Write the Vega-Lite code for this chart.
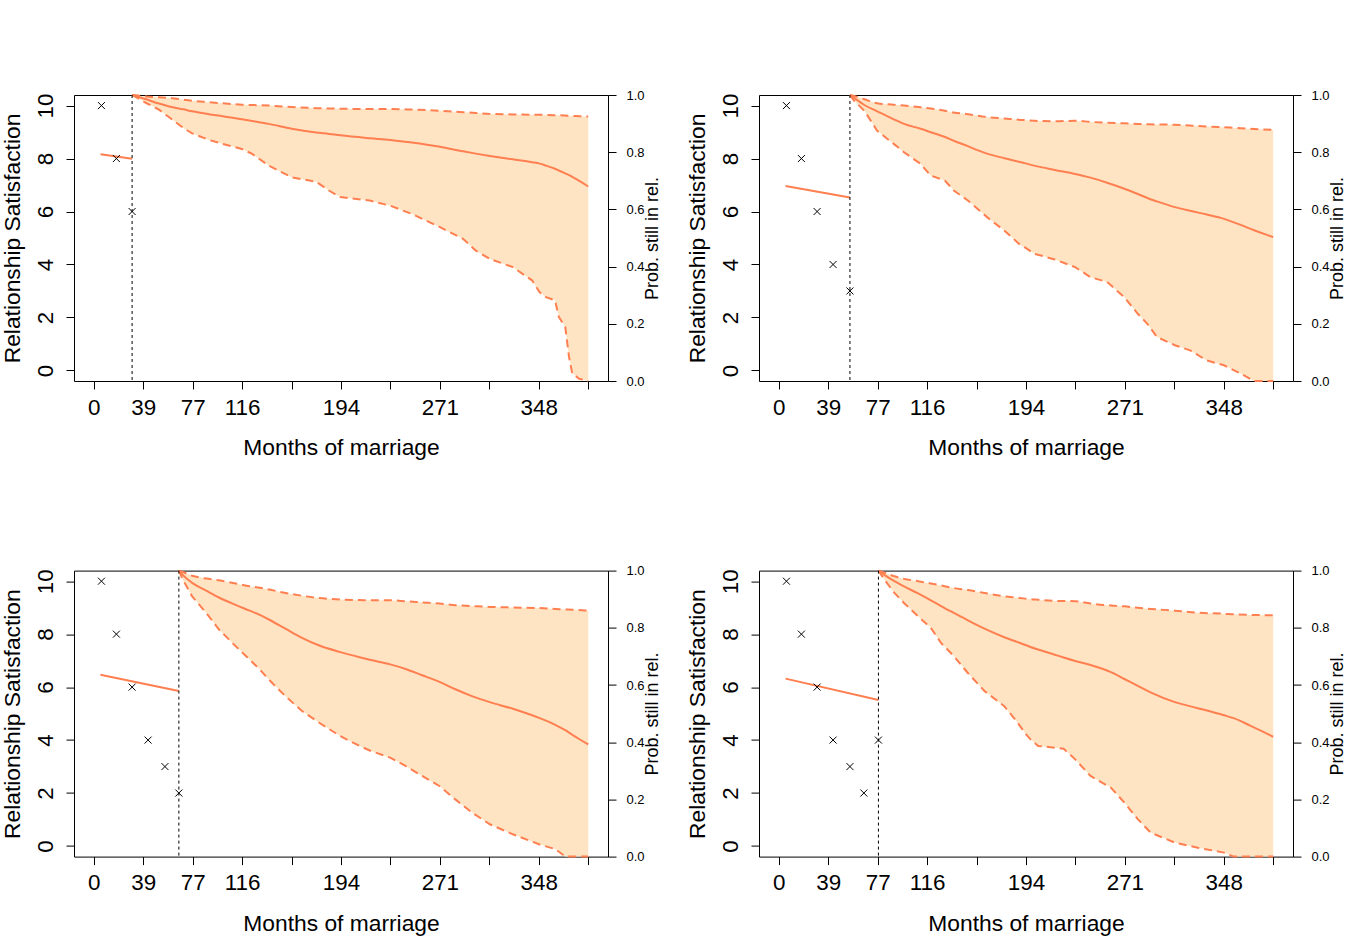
{
  "$schema": "https://vega.github.io/schema/vega-lite/v6.json",
  "padding": {"left": 0, "top": 88, "right": 0, "bottom": 0},
  "background": "white",
  "config": {
    "font": "Liberation Sans",
    "view": {"stroke": "black", "strokeWidth": 1},
    "axis": {"labelFont": "Liberation Sans", "titleFont": "Liberation Sans", "labelColor": "black", "titleColor": "black", "tickColor": "black", "tickWidth": 1, "domain": false, "grid": false, "titleFontWeight": "normal"}
  },
  "datasets": {
    "obs": [
      {"panel": 1, "t": 6, "y": 10}, {"panel": 1, "t": 17.7, "y": 8}, {"panel": 1, "t": 30, "y": 6},
      {"panel": 2, "t": 6, "y": 10}, {"panel": 2, "t": 17.7, "y": 8}, {"panel": 2, "t": 30, "y": 6}, {"panel": 2, "t": 42.5, "y": 4}, {"panel": 2, "t": 55.7, "y": 3},
      {"panel": 3, "t": 6, "y": 10}, {"panel": 3, "t": 17.7, "y": 8}, {"panel": 3, "t": 30, "y": 6}, {"panel": 3, "t": 42.5, "y": 4}, {"panel": 3, "t": 55.7, "y": 3}, {"panel": 3, "t": 66.6, "y": 2},
      {"panel": 4, "t": 6, "y": 10}, {"panel": 4, "t": 17.7, "y": 8}, {"panel": 4, "t": 30, "y": 6}, {"panel": 4, "t": 42.5, "y": 4}, {"panel": 4, "t": 55.7, "y": 3}, {"panel": 4, "t": 66.6, "y": 2}, {"panel": 4, "t": 78, "y": 4}
    ],
    "fit": [
      {"panel": 1, "t": 5.3, "y": 8.16}, {"panel": 1, "t": 30, "y": 7.99},
      {"panel": 2, "t": 5.3, "y": 6.96}, {"panel": 2, "t": 55.7, "y": 6.53},
      {"panel": 3, "t": 5.2, "y": 6.47}, {"panel": 3, "t": 66.6, "y": 5.85},
      {"panel": 4, "t": 5.3, "y": 6.32}, {"panel": 4, "t": 78, "y": 5.51}
    ],
    "last": [
      {"panel": 1, "t": 30}, {"panel": 2, "t": 55.7}, {"panel": 3, "t": 66.6}, {"panel": 4, "t": 78}
    ],
    "surv": [
      {"panel": 1, "t": 30, "m": 1, "lo": 1, "up": 1},
      {"panel": 1, "t": 41, "m": 0.985, "lo": 0.972, "up": 0.995},
      {"panel": 1, "t": 51, "m": 0.970, "lo": 0.949, "up": 0.992},
      {"panel": 1, "t": 59, "m": 0.960, "lo": 0.922, "up": 0.990},
      {"panel": 1, "t": 70, "m": 0.950, "lo": 0.885, "up": 0.984},
      {"panel": 1, "t": 77, "m": 0.943, "lo": 0.866, "up": 0.980},
      {"panel": 1, "t": 90, "m": 0.933, "lo": 0.843, "up": 0.975},
      {"panel": 1, "t": 101, "m": 0.926, "lo": 0.829, "up": 0.971},
      {"panel": 1, "t": 116, "m": 0.915, "lo": 0.811, "up": 0.966},
      {"panel": 1, "t": 124, "m": 0.909, "lo": 0.794, "up": 0.965},
      {"panel": 1, "t": 137, "m": 0.899, "lo": 0.753, "up": 0.963},
      {"panel": 1, "t": 155, "m": 0.882, "lo": 0.712, "up": 0.958},
      {"panel": 1, "t": 174, "m": 0.869, "lo": 0.697, "up": 0.954},
      {"panel": 1, "t": 184, "m": 0.864, "lo": 0.666, "up": 0.953},
      {"panel": 1, "t": 193, "m": 0.859, "lo": 0.643, "up": 0.952},
      {"panel": 1, "t": 216, "m": 0.849, "lo": 0.631, "up": 0.951},
      {"panel": 1, "t": 232, "m": 0.843, "lo": 0.613, "up": 0.951},
      {"panel": 1, "t": 249, "m": 0.834, "lo": 0.584, "up": 0.949},
      {"panel": 1, "t": 271, "m": 0.819, "lo": 0.538, "up": 0.945},
      {"panel": 1, "t": 289, "m": 0.803, "lo": 0.497, "up": 0.940},
      {"panel": 1, "t": 299, "m": 0.795, "lo": 0.456, "up": 0.937},
      {"panel": 1, "t": 310, "m": 0.787, "lo": 0.427, "up": 0.934},
      {"panel": 1, "t": 328, "m": 0.775, "lo": 0.398, "up": 0.932},
      {"panel": 1, "t": 343, "m": 0.765, "lo": 0.352, "up": 0.931},
      {"panel": 1, "t": 349, "m": 0.760, "lo": 0.310, "up": 0.931},
      {"panel": 1, "t": 354, "m": 0.753, "lo": 0.293, "up": 0.930},
      {"panel": 1, "t": 361, "m": 0.742, "lo": 0.282, "up": 0.929},
      {"panel": 1, "t": 364, "m": 0.736, "lo": 0.224, "up": 0.929},
      {"panel": 1, "t": 369, "m": 0.726, "lo": 0.189, "up": 0.928},
      {"panel": 1, "t": 372, "m": 0.720, "lo": 0.084, "up": 0.927},
      {"panel": 1, "t": 374.5, "m": 0.714, "lo": 0.026, "up": 0.927},
      {"panel": 1, "t": 380, "m": 0.700, "lo": 0.008, "up": 0.926},
      {"panel": 1, "t": 387, "m": 0.680, "lo": 0.0, "up": 0.925},
      {"panel": 2, "t": 55.7, "m": 1, "lo": 1, "up": 1},
      {"panel": 2, "t": 59, "m": 0.990, "lo": 0.980, "up": 0.997},
      {"panel": 2, "t": 67, "m": 0.965, "lo": 0.945, "up": 0.985},
      {"panel": 2, "t": 77, "m": 0.943, "lo": 0.875, "up": 0.971},
      {"panel": 2, "t": 90, "m": 0.915, "lo": 0.829, "up": 0.966},
      {"panel": 2, "t": 98, "m": 0.899, "lo": 0.800, "up": 0.963},
      {"panel": 2, "t": 111, "m": 0.882, "lo": 0.759, "up": 0.957},
      {"panel": 2, "t": 119, "m": 0.870, "lo": 0.718, "up": 0.953},
      {"panel": 2, "t": 130, "m": 0.853, "lo": 0.701, "up": 0.945},
      {"panel": 2, "t": 137, "m": 0.840, "lo": 0.666, "up": 0.939},
      {"panel": 2, "t": 148, "m": 0.821, "lo": 0.631, "up": 0.933},
      {"panel": 2, "t": 155, "m": 0.808, "lo": 0.604, "up": 0.928},
      {"panel": 2, "t": 163, "m": 0.795, "lo": 0.573, "up": 0.923},
      {"panel": 2, "t": 176.5, "m": 0.779, "lo": 0.526, "up": 0.918},
      {"panel": 2, "t": 189.5, "m": 0.765, "lo": 0.474, "up": 0.913},
      {"panel": 2, "t": 193, "m": 0.761, "lo": 0.466, "up": 0.912},
      {"panel": 2, "t": 200, "m": 0.753, "lo": 0.445, "up": 0.910},
      {"panel": 2, "t": 216, "m": 0.738, "lo": 0.425, "up": 0.908},
      {"panel": 2, "t": 232, "m": 0.724, "lo": 0.398, "up": 0.910},
      {"panel": 2, "t": 244, "m": 0.711, "lo": 0.363, "up": 0.906},
      {"panel": 2, "t": 257, "m": 0.693, "lo": 0.346, "up": 0.903},
      {"panel": 2, "t": 270.5, "m": 0.672, "lo": 0.293, "up": 0.901},
      {"panel": 2, "t": 281, "m": 0.654, "lo": 0.235, "up": 0.899},
      {"panel": 2, "t": 288.5, "m": 0.640, "lo": 0.200, "up": 0.898},
      {"panel": 2, "t": 296, "m": 0.628, "lo": 0.154, "up": 0.897},
      {"panel": 2, "t": 310, "m": 0.608, "lo": 0.125, "up": 0.896},
      {"panel": 2, "t": 322, "m": 0.595, "lo": 0.107, "up": 0.893},
      {"panel": 2, "t": 335, "m": 0.582, "lo": 0.072, "up": 0.890},
      {"panel": 2, "t": 348.5, "m": 0.567, "lo": 0.055, "up": 0.887},
      {"panel": 2, "t": 361.5, "m": 0.546, "lo": 0.026, "up": 0.884},
      {"panel": 2, "t": 372, "m": 0.527, "lo": 0.0, "up": 0.881},
      {"panel": 2, "t": 387, "m": 0.503, "lo": 0.0, "up": 0.878},
      {"panel": 3, "t": 66.6, "m": 1, "lo": 1, "up": 1},
      {"panel": 3, "t": 69.6, "m": 0.985, "lo": 0.969, "up": 0.995},
      {"panel": 3, "t": 77, "m": 0.957, "lo": 0.910, "up": 0.982},
      {"panel": 3, "t": 88, "m": 0.930, "lo": 0.852, "up": 0.972},
      {"panel": 3, "t": 98, "m": 0.906, "lo": 0.794, "up": 0.966},
      {"panel": 3, "t": 111, "m": 0.880, "lo": 0.736, "up": 0.955},
      {"panel": 3, "t": 122, "m": 0.860, "lo": 0.689, "up": 0.945},
      {"panel": 3, "t": 130, "m": 0.845, "lo": 0.654, "up": 0.940},
      {"panel": 3, "t": 137, "m": 0.829, "lo": 0.619, "up": 0.934},
      {"panel": 3, "t": 150, "m": 0.797, "lo": 0.561, "up": 0.922},
      {"panel": 3, "t": 163, "m": 0.765, "lo": 0.509, "up": 0.912},
      {"panel": 3, "t": 176.5, "m": 0.738, "lo": 0.468, "up": 0.904},
      {"panel": 3, "t": 193, "m": 0.715, "lo": 0.421, "up": 0.899},
      {"panel": 3, "t": 208, "m": 0.697, "lo": 0.387, "up": 0.897},
      {"panel": 3, "t": 216, "m": 0.688, "lo": 0.371, "up": 0.896},
      {"panel": 3, "t": 232, "m": 0.672, "lo": 0.346, "up": 0.896},
      {"panel": 3, "t": 244, "m": 0.656, "lo": 0.317, "up": 0.893},
      {"panel": 3, "t": 257, "m": 0.634, "lo": 0.282, "up": 0.889},
      {"panel": 3, "t": 270.5, "m": 0.611, "lo": 0.247, "up": 0.885},
      {"panel": 3, "t": 283, "m": 0.585, "lo": 0.200, "up": 0.879},
      {"panel": 3, "t": 296, "m": 0.561, "lo": 0.154, "up": 0.876},
      {"panel": 3, "t": 310, "m": 0.540, "lo": 0.113, "up": 0.873},
      {"panel": 3, "t": 328, "m": 0.517, "lo": 0.078, "up": 0.871},
      {"panel": 3, "t": 348.5, "m": 0.485, "lo": 0.043, "up": 0.869},
      {"panel": 3, "t": 361.5, "m": 0.460, "lo": 0.026, "up": 0.866},
      {"panel": 3, "t": 369, "m": 0.442, "lo": 0.0, "up": 0.864},
      {"panel": 3, "t": 374.5, "m": 0.426, "lo": 0.0, "up": 0.863},
      {"panel": 3, "t": 387, "m": 0.392, "lo": 0.0, "up": 0.860},
      {"panel": 4, "t": 78, "m": 1, "lo": 1, "up": 1},
      {"panel": 4, "t": 82.6, "m": 0.985, "lo": 0.969, "up": 0.993},
      {"panel": 4, "t": 90.5, "m": 0.963, "lo": 0.922, "up": 0.980},
      {"panel": 4, "t": 98, "m": 0.945, "lo": 0.887, "up": 0.971},
      {"panel": 4, "t": 109, "m": 0.920, "lo": 0.840, "up": 0.963},
      {"panel": 4, "t": 119, "m": 0.896, "lo": 0.800, "up": 0.955},
      {"panel": 4, "t": 127, "m": 0.876, "lo": 0.747, "up": 0.948},
      {"panel": 4, "t": 137, "m": 0.852, "lo": 0.701, "up": 0.939},
      {"panel": 4, "t": 148, "m": 0.826, "lo": 0.642, "up": 0.932},
      {"panel": 4, "t": 161, "m": 0.797, "lo": 0.579, "up": 0.922},
      {"panel": 4, "t": 176.5, "m": 0.767, "lo": 0.526, "up": 0.910},
      {"panel": 4, "t": 187, "m": 0.750, "lo": 0.468, "up": 0.905},
      {"panel": 4, "t": 193, "m": 0.740, "lo": 0.430, "up": 0.902},
      {"panel": 4, "t": 197, "m": 0.733, "lo": 0.410, "up": 0.900},
      {"panel": 4, "t": 203, "m": 0.724, "lo": 0.387, "up": 0.898},
      {"panel": 4, "t": 216, "m": 0.706, "lo": 0.381, "up": 0.894},
      {"panel": 4, "t": 223, "m": 0.696, "lo": 0.377, "up": 0.894},
      {"panel": 4, "t": 232, "m": 0.684, "lo": 0.340, "up": 0.893},
      {"panel": 4, "t": 244, "m": 0.670, "lo": 0.282, "up": 0.885},
      {"panel": 4, "t": 260, "m": 0.645, "lo": 0.241, "up": 0.878},
      {"panel": 4, "t": 270.5, "m": 0.621, "lo": 0.189, "up": 0.875},
      {"panel": 4, "t": 281, "m": 0.597, "lo": 0.131, "up": 0.870},
      {"panel": 4, "t": 291, "m": 0.574, "lo": 0.084, "up": 0.866},
      {"panel": 4, "t": 310, "m": 0.540, "lo": 0.049, "up": 0.860},
      {"panel": 4, "t": 328, "m": 0.519, "lo": 0.031, "up": 0.853},
      {"panel": 4, "t": 348.5, "m": 0.494, "lo": 0.014, "up": 0.849},
      {"panel": 4, "t": 356, "m": 0.484, "lo": 0.0, "up": 0.847},
      {"panel": 4, "t": 369, "m": 0.458, "lo": 0.0, "up": 0.845},
      {"panel": 4, "t": 387, "m": 0.419, "lo": 0.0, "up": 0.844}
    ]
  },
  "columns": 2,
  "bounds": "flush",
  "spacing": {"row": 189.6, "column": 151},
  "concat": [
    {
      "width": 534, "height": 286,
      "resolve": {"scale": {"y": "independent"}},
      "layer": [
        {
          "data": {"name": "surv"},
          "transform": [{"filter": "datum.panel == 1"}],
          "encoding": {
            "x": {"field": "t", "type": "quantitative", "title": "Months of marriage",
              "scale": {"domain": [-15.48, 402.48], "nice": false, "zero": false},
              "axis": {"values": [0, 38.7, 77.4, 116.1, 154.8, 193.5, 232.2, 270.9, 309.6, 348.3, 387], "labelExpr": "(datum.value > 150 && datum.value < 160) || (datum.value > 230 && datum.value < 240) || (datum.value > 305 && datum.value < 315) || datum.value > 380 ? '' : format(datum.value, '.0f')", "labelOverlap": false, "labelFlush": false, "tickSize": 8, "labelFontSize": 22.4, "labelPadding": 7, "titleFontSize": 22.8, "titlePadding": 18}}
          },
          "layer": [
            {"mark": {"type": "area", "color": "#FFE4C4", "opacity": 1},
             "encoding": {"y": {"field": "lo", "type": "quantitative", "title": "Prob. still in rel.", "scale": {"domain": [0, 1], "nice": false, "zero": false},
               "axis": {"orient": "right", "values": [0, 0.2, 0.4, 0.6, 0.8, 1], "format": ".1f", "tickSize": 8, "labelFontSize": 13, "labelPadding": 10, "labelAlign": "left", "labelBaseline": "middle", "labelFlush": false, "labelOverlap": false, "titleFontSize": 18, "titleAngle": 270, "titleBaseline": "top", "titlePadding": -1}},
               "y2": {"field": "up"}}},
            {"mark": {"type": "line", "color": "#FF7F50", "strokeWidth": 2, "strokeDash": [8, 5], "interpolate": "monotone"},
             "encoding": {"y": {"field": "up", "type": "quantitative", "title": "Prob. still in rel.", "scale": {"domain": [0, 1], "nice": false, "zero": false}}}},
            {"mark": {"type": "line", "color": "#FF7F50", "strokeWidth": 2, "strokeDash": [8, 5]},
             "encoding": {"y": {"field": "lo", "type": "quantitative", "title": "Prob. still in rel.", "scale": {"domain": [0, 1], "nice": false, "zero": false}}}},
            {"mark": {"type": "line", "color": "#FF7F50", "strokeWidth": 2, "interpolate": "monotone"},
             "encoding": {"y": {"field": "m", "type": "quantitative", "title": "Prob. still in rel.", "scale": {"domain": [0, 1], "nice": false, "zero": false}}}}
          ]
        },
        {
          "layer": [
            {"data": {"name": "fit"}, "transform": [{"filter": "datum.panel == 1"}],
             "mark": {"type": "line", "color": "#FF7F50", "strokeWidth": 2},
             "encoding": {
               "x": {"field": "t", "type": "quantitative", "title": "Months of marriage", "scale": {"domain": [-15.48, 402.48], "nice": false, "zero": false}},
               "y": {"field": "y", "type": "quantitative", "title": "Relationship Satisfaction", "scale": {"domain": [-0.4, 10.4], "nice": false, "zero": false},
                 "axis": {"orient": "left", "values": [0, 2, 4, 6, 8, 10], "tickSize": 8, "labelFontSize": 22.4, "labelAngle": -90, "labelAlign": "center", "labelBaseline": "alphabetic", "labelPadding": 14, "labelFlush": false, "labelOverlap": false, "titleFontSize": 22.8, "titlePadding": 10}}}},
            {"data": {"name": "obs"}, "transform": [{"filter": "datum.panel == 1"}],
             "mark": {"type": "point", "shape": "M-1,-1L1,1M-1,1L1,-1", "size": 49, "filled": false, "stroke": "black", "strokeWidth": 1, "opacity": 1},
             "encoding": {
               "x": {"field": "t", "type": "quantitative", "title": "Months of marriage", "scale": {"domain": [-15.48, 402.48], "nice": false, "zero": false}},
               "y": {"field": "y", "type": "quantitative", "title": "Relationship Satisfaction", "scale": {"domain": [-0.4, 10.4], "nice": false, "zero": false}}}},
            {"data": {"name": "last"}, "transform": [{"filter": "datum.panel == 1"}],
             "mark": {"type": "rule", "color": "black", "strokeWidth": 1, "strokeDash": [3, 3]},
             "encoding": {"x": {"field": "t", "type": "quantitative", "title": "Months of marriage", "scale": {"domain": [-15.48, 402.48], "nice": false, "zero": false}}}}
          ]
        }
      ]
    },
    {
      "width": 534, "height": 286,
      "resolve": {"scale": {"y": "independent"}},
      "layer": [
        {
          "data": {"name": "surv"},
          "transform": [{"filter": "datum.panel == 2"}],
          "encoding": {
            "x": {"field": "t", "type": "quantitative", "title": "Months of marriage",
              "scale": {"domain": [-15.48, 402.48], "nice": false, "zero": false},
              "axis": {"values": [0, 38.7, 77.4, 116.1, 154.8, 193.5, 232.2, 270.9, 309.6, 348.3, 387], "labelExpr": "(datum.value > 150 && datum.value < 160) || (datum.value > 230 && datum.value < 240) || (datum.value > 305 && datum.value < 315) || datum.value > 380 ? '' : format(datum.value, '.0f')", "labelOverlap": false, "labelFlush": false, "tickSize": 8, "labelFontSize": 22.4, "labelPadding": 7, "titleFontSize": 22.8, "titlePadding": 18}}
          },
          "layer": [
            {"mark": {"type": "area", "color": "#FFE4C4", "opacity": 1},
             "encoding": {"y": {"field": "lo", "type": "quantitative", "title": "Prob. still in rel.", "scale": {"domain": [0, 1], "nice": false, "zero": false},
               "axis": {"orient": "right", "values": [0, 0.2, 0.4, 0.6, 0.8, 1], "format": ".1f", "tickSize": 8, "labelFontSize": 13, "labelPadding": 10, "labelAlign": "left", "labelBaseline": "middle", "labelFlush": false, "labelOverlap": false, "titleFontSize": 18, "titleAngle": 270, "titleBaseline": "top", "titlePadding": -1}},
               "y2": {"field": "up"}}},
            {"mark": {"type": "line", "color": "#FF7F50", "strokeWidth": 2, "strokeDash": [8, 5], "interpolate": "monotone"},
             "encoding": {"y": {"field": "up", "type": "quantitative", "title": "Prob. still in rel.", "scale": {"domain": [0, 1], "nice": false, "zero": false}}}},
            {"mark": {"type": "line", "color": "#FF7F50", "strokeWidth": 2, "strokeDash": [8, 5]},
             "encoding": {"y": {"field": "lo", "type": "quantitative", "title": "Prob. still in rel.", "scale": {"domain": [0, 1], "nice": false, "zero": false}}}},
            {"mark": {"type": "line", "color": "#FF7F50", "strokeWidth": 2, "interpolate": "monotone"},
             "encoding": {"y": {"field": "m", "type": "quantitative", "title": "Prob. still in rel.", "scale": {"domain": [0, 1], "nice": false, "zero": false}}}}
          ]
        },
        {
          "layer": [
            {"data": {"name": "fit"}, "transform": [{"filter": "datum.panel == 2"}],
             "mark": {"type": "line", "color": "#FF7F50", "strokeWidth": 2},
             "encoding": {
               "x": {"field": "t", "type": "quantitative", "title": "Months of marriage", "scale": {"domain": [-15.48, 402.48], "nice": false, "zero": false}},
               "y": {"field": "y", "type": "quantitative", "title": "Relationship Satisfaction", "scale": {"domain": [-0.4, 10.4], "nice": false, "zero": false},
                 "axis": {"orient": "left", "values": [0, 2, 4, 6, 8, 10], "tickSize": 8, "labelFontSize": 22.4, "labelAngle": -90, "labelAlign": "center", "labelBaseline": "alphabetic", "labelPadding": 14, "labelFlush": false, "labelOverlap": false, "titleFontSize": 22.8, "titlePadding": 10}}}},
            {"data": {"name": "obs"}, "transform": [{"filter": "datum.panel == 2"}],
             "mark": {"type": "point", "shape": "M-1,-1L1,1M-1,1L1,-1", "size": 49, "filled": false, "stroke": "black", "strokeWidth": 1, "opacity": 1},
             "encoding": {
               "x": {"field": "t", "type": "quantitative", "title": "Months of marriage", "scale": {"domain": [-15.48, 402.48], "nice": false, "zero": false}},
               "y": {"field": "y", "type": "quantitative", "title": "Relationship Satisfaction", "scale": {"domain": [-0.4, 10.4], "nice": false, "zero": false}}}},
            {"data": {"name": "last"}, "transform": [{"filter": "datum.panel == 2"}],
             "mark": {"type": "rule", "color": "black", "strokeWidth": 1, "strokeDash": [3, 3]},
             "encoding": {"x": {"field": "t", "type": "quantitative", "title": "Months of marriage", "scale": {"domain": [-15.48, 402.48], "nice": false, "zero": false}}}}
          ]
        }
      ]
    },
    {
      "width": 534, "height": 286,
      "resolve": {"scale": {"y": "independent"}},
      "layer": [
        {
          "data": {"name": "surv"},
          "transform": [{"filter": "datum.panel == 3"}],
          "encoding": {
            "x": {"field": "t", "type": "quantitative", "title": "Months of marriage",
              "scale": {"domain": [-15.48, 402.48], "nice": false, "zero": false},
              "axis": {"values": [0, 38.7, 77.4, 116.1, 154.8, 193.5, 232.2, 270.9, 309.6, 348.3, 387], "labelExpr": "(datum.value > 150 && datum.value < 160) || (datum.value > 230 && datum.value < 240) || (datum.value > 305 && datum.value < 315) || datum.value > 380 ? '' : format(datum.value, '.0f')", "labelOverlap": false, "labelFlush": false, "tickSize": 8, "labelFontSize": 22.4, "labelPadding": 7, "titleFontSize": 22.8, "titlePadding": 18}}
          },
          "layer": [
            {"mark": {"type": "area", "color": "#FFE4C4", "opacity": 1},
             "encoding": {"y": {"field": "lo", "type": "quantitative", "title": "Prob. still in rel.", "scale": {"domain": [0, 1], "nice": false, "zero": false},
               "axis": {"orient": "right", "values": [0, 0.2, 0.4, 0.6, 0.8, 1], "format": ".1f", "tickSize": 8, "labelFontSize": 13, "labelPadding": 10, "labelAlign": "left", "labelBaseline": "middle", "labelFlush": false, "labelOverlap": false, "titleFontSize": 18, "titleAngle": 270, "titleBaseline": "top", "titlePadding": -1}},
               "y2": {"field": "up"}}},
            {"mark": {"type": "line", "color": "#FF7F50", "strokeWidth": 2, "strokeDash": [8, 5], "interpolate": "monotone"},
             "encoding": {"y": {"field": "up", "type": "quantitative", "title": "Prob. still in rel.", "scale": {"domain": [0, 1], "nice": false, "zero": false}}}},
            {"mark": {"type": "line", "color": "#FF7F50", "strokeWidth": 2, "strokeDash": [8, 5]},
             "encoding": {"y": {"field": "lo", "type": "quantitative", "title": "Prob. still in rel.", "scale": {"domain": [0, 1], "nice": false, "zero": false}}}},
            {"mark": {"type": "line", "color": "#FF7F50", "strokeWidth": 2, "interpolate": "monotone"},
             "encoding": {"y": {"field": "m", "type": "quantitative", "title": "Prob. still in rel.", "scale": {"domain": [0, 1], "nice": false, "zero": false}}}}
          ]
        },
        {
          "layer": [
            {"data": {"name": "fit"}, "transform": [{"filter": "datum.panel == 3"}],
             "mark": {"type": "line", "color": "#FF7F50", "strokeWidth": 2},
             "encoding": {
               "x": {"field": "t", "type": "quantitative", "title": "Months of marriage", "scale": {"domain": [-15.48, 402.48], "nice": false, "zero": false}},
               "y": {"field": "y", "type": "quantitative", "title": "Relationship Satisfaction", "scale": {"domain": [-0.4, 10.4], "nice": false, "zero": false},
                 "axis": {"orient": "left", "values": [0, 2, 4, 6, 8, 10], "tickSize": 8, "labelFontSize": 22.4, "labelAngle": -90, "labelAlign": "center", "labelBaseline": "alphabetic", "labelPadding": 14, "labelFlush": false, "labelOverlap": false, "titleFontSize": 22.8, "titlePadding": 10}}}},
            {"data": {"name": "obs"}, "transform": [{"filter": "datum.panel == 3"}],
             "mark": {"type": "point", "shape": "M-1,-1L1,1M-1,1L1,-1", "size": 49, "filled": false, "stroke": "black", "strokeWidth": 1, "opacity": 1},
             "encoding": {
               "x": {"field": "t", "type": "quantitative", "title": "Months of marriage", "scale": {"domain": [-15.48, 402.48], "nice": false, "zero": false}},
               "y": {"field": "y", "type": "quantitative", "title": "Relationship Satisfaction", "scale": {"domain": [-0.4, 10.4], "nice": false, "zero": false}}}},
            {"data": {"name": "last"}, "transform": [{"filter": "datum.panel == 3"}],
             "mark": {"type": "rule", "color": "black", "strokeWidth": 1, "strokeDash": [3, 3]},
             "encoding": {"x": {"field": "t", "type": "quantitative", "title": "Months of marriage", "scale": {"domain": [-15.48, 402.48], "nice": false, "zero": false}}}}
          ]
        }
      ]
    },
    {
      "width": 534, "height": 286,
      "resolve": {"scale": {"y": "independent"}},
      "layer": [
        {
          "data": {"name": "surv"},
          "transform": [{"filter": "datum.panel == 4"}],
          "encoding": {
            "x": {"field": "t", "type": "quantitative", "title": "Months of marriage",
              "scale": {"domain": [-15.48, 402.48], "nice": false, "zero": false},
              "axis": {"values": [0, 38.7, 77.4, 116.1, 154.8, 193.5, 232.2, 270.9, 309.6, 348.3, 387], "labelExpr": "(datum.value > 150 && datum.value < 160) || (datum.value > 230 && datum.value < 240) || (datum.value > 305 && datum.value < 315) || datum.value > 380 ? '' : format(datum.value, '.0f')", "labelOverlap": false, "labelFlush": false, "tickSize": 8, "labelFontSize": 22.4, "labelPadding": 7, "titleFontSize": 22.8, "titlePadding": 18}}
          },
          "layer": [
            {"mark": {"type": "area", "color": "#FFE4C4", "opacity": 1},
             "encoding": {"y": {"field": "lo", "type": "quantitative", "title": "Prob. still in rel.", "scale": {"domain": [0, 1], "nice": false, "zero": false},
               "axis": {"orient": "right", "values": [0, 0.2, 0.4, 0.6, 0.8, 1], "format": ".1f", "tickSize": 8, "labelFontSize": 13, "labelPadding": 10, "labelAlign": "left", "labelBaseline": "middle", "labelFlush": false, "labelOverlap": false, "titleFontSize": 18, "titleAngle": 270, "titleBaseline": "top", "titlePadding": -1}},
               "y2": {"field": "up"}}},
            {"mark": {"type": "line", "color": "#FF7F50", "strokeWidth": 2, "strokeDash": [8, 5], "interpolate": "monotone"},
             "encoding": {"y": {"field": "up", "type": "quantitative", "title": "Prob. still in rel.", "scale": {"domain": [0, 1], "nice": false, "zero": false}}}},
            {"mark": {"type": "line", "color": "#FF7F50", "strokeWidth": 2, "strokeDash": [8, 5]},
             "encoding": {"y": {"field": "lo", "type": "quantitative", "title": "Prob. still in rel.", "scale": {"domain": [0, 1], "nice": false, "zero": false}}}},
            {"mark": {"type": "line", "color": "#FF7F50", "strokeWidth": 2, "interpolate": "monotone"},
             "encoding": {"y": {"field": "m", "type": "quantitative", "title": "Prob. still in rel.", "scale": {"domain": [0, 1], "nice": false, "zero": false}}}}
          ]
        },
        {
          "layer": [
            {"data": {"name": "fit"}, "transform": [{"filter": "datum.panel == 4"}],
             "mark": {"type": "line", "color": "#FF7F50", "strokeWidth": 2},
             "encoding": {
               "x": {"field": "t", "type": "quantitative", "title": "Months of marriage", "scale": {"domain": [-15.48, 402.48], "nice": false, "zero": false}},
               "y": {"field": "y", "type": "quantitative", "title": "Relationship Satisfaction", "scale": {"domain": [-0.4, 10.4], "nice": false, "zero": false},
                 "axis": {"orient": "left", "values": [0, 2, 4, 6, 8, 10], "tickSize": 8, "labelFontSize": 22.4, "labelAngle": -90, "labelAlign": "center", "labelBaseline": "alphabetic", "labelPadding": 14, "labelFlush": false, "labelOverlap": false, "titleFontSize": 22.8, "titlePadding": 10}}}},
            {"data": {"name": "obs"}, "transform": [{"filter": "datum.panel == 4"}],
             "mark": {"type": "point", "shape": "M-1,-1L1,1M-1,1L1,-1", "size": 49, "filled": false, "stroke": "black", "strokeWidth": 1, "opacity": 1},
             "encoding": {
               "x": {"field": "t", "type": "quantitative", "title": "Months of marriage", "scale": {"domain": [-15.48, 402.48], "nice": false, "zero": false}},
               "y": {"field": "y", "type": "quantitative", "title": "Relationship Satisfaction", "scale": {"domain": [-0.4, 10.4], "nice": false, "zero": false}}}},
            {"data": {"name": "last"}, "transform": [{"filter": "datum.panel == 4"}],
             "mark": {"type": "rule", "color": "black", "strokeWidth": 1, "strokeDash": [3, 3]},
             "encoding": {"x": {"field": "t", "type": "quantitative", "title": "Months of marriage", "scale": {"domain": [-15.48, 402.48], "nice": false, "zero": false}}}}
          ]
        }
      ]
    }
  ]
}
